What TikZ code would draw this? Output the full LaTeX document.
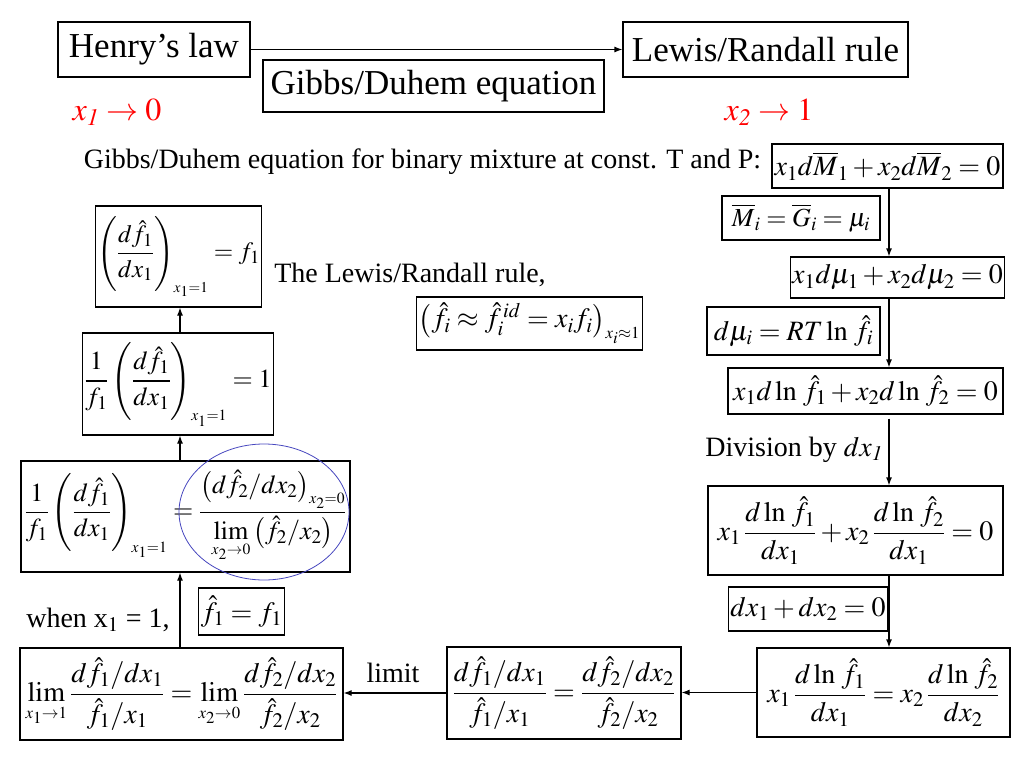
\documentclass[tikz,border=0pt]{standalone}
\usepackage{amsmath}
\usepackage{mathptmx}
\usepackage{fontspec}
\setmainfont{Liberation Serif}
\usetikzlibrary{arrows.meta}

\newcommand{\evalat}[1]{_{\scriptscriptstyle #1}}
\definecolor{ringblue}{RGB}{70,70,190}
\tikzset{
	titlebox/.style={draw, line width=1.2pt, inner sep=2pt, font=\fontsize{35}{40}\selectfont},
	eqbox/.style={draw, line width=1.2pt, inner sep=2pt, font=\fontsize{28}{32}\selectfont},
	smalleq/.style={font=\fontsize{26}{30}\selectfont},
	tinyeq/.style={font=\fontsize{25}{29}\selectfont},
	plain/.style={inner sep=0pt, font=\fontsize{28}{32}\selectfont},
	limitlabel/.style={inner sep=0pt, text=red, font=\fontsize{32}{36}\selectfont},
	flow/.style={line width=1.2pt, -{Latex[length=8pt,width=6pt]}},
}

\begin{document}
\begin{tikzpicture}[x=1pt,y=-1pt]
	\useasboundingbox (0,0) rectangle (1024,768);
	\coordinate (rcol) at (889,0);
	\coordinate (lcol) at (180,0);

	\node[titlebox, minimum width=192pt, minimum height=55pt] (henry) at (154,49.5) {Henry's law};
	\node[titlebox, minimum width=285pt, minimum height=55pt] (lewis) at (765.5,49.5) {Lewis/Randall rule};
	\node[titlebox, minimum width=341pt, minimum height=52pt] (gibbs) at (433.5,86) {Gibbs/Duhem equation};
	\node[limitlabel] (xone) at (117,112) {$x_{\mathit{1}}\rightarrow 0$};
	\node[limitlabel] (xtwo) at (769,112) {$x_{\mathit{2}}\rightarrow 1$};

	\node[plain] (gdtext) at (422.5,161.5) {Gibbs/Duhem equation for binary mixture at const. T and P:};
	\node[eqbox, minimum width=231pt, minimum height=44pt] (b1) at (887.5,166) {$x_1 d\overline{M}_1 + x_2 d\overline{M}_2 = 0$};
	\node[eqbox, smalleq, minimum width=158pt, minimum height=44pt] (bM) at (801,218) {$\overline{M}_i = \overline{G}_i = \mu_i$};
	\node[eqbox, minimum width=211pt, minimum height=41pt] (b3) at (897.5,277.5) {$x_1 d\mu_1 + x_2 d\mu_2 = 0$};
	\node[eqbox, minimum width=173pt, minimum height=48pt] (bmu) at (793.5,331) {$d\mu_i = RT \ln\, \hat{f}_i$};
	\node[eqbox, minimum width=275pt, minimum height=46pt] (b5) at (865.5,391) {$x_1 d\ln\, \hat{f}_1 + x_2 d\ln\, \hat{f}_2 = 0$};
	\node[plain] (divide) at (794,450) {Division by $dx_{\mathit{1}}$};
	\node[eqbox, minimum width=295pt, minimum height=89pt] (b6) at (855.5,530.5) {$x_1\, \dfrac{d\ln\, \hat{f}_1}{dx_1} + x_2\, \dfrac{d\ln\, \hat{f}_2}{dx_1} = 0$};
	\node[eqbox, minimum width=156pt, minimum height=44pt] (bdx) at (808,609) {$dx_1 + dx_2 = 0$};
	\node[eqbox, minimum width=253pt, minimum height=89pt] (b7) at (883.5,692.5) {$x_1\, \dfrac{d\ln\, \hat{f}_1}{dx_1} = x_2\, \dfrac{d\ln\, \hat{f}_2}{dx_2}$};
	\node[eqbox, minimum width=234pt, minimum height=92pt] (b8) at (564,693) {$\dfrac{d\hat{f}_1/dx_1}{\hat{f}_1/x_1} = \dfrac{d\hat{f}_2/dx_2}{\hat{f}_2/x_2}$};
	\node[plain] (limit) at (393,673) {limit};
	\node[eqbox, minimum width=323pt, minimum height=92pt] (b9) at (181.5,694) {$\lim\limits\evalat{x_1\to 1} \dfrac{d\hat{f}_1/dx_1}{\hat{f}_1/x_1} = \lim\limits\evalat{x_2\to 0} \dfrac{d\hat{f}_2/dx_2}{\hat{f}_2/x_2}$};
	\node[plain] (when) at (98,620) {when x$_1$ = 1,};
	\node[eqbox, minimum width=85pt, minimum height=47pt] (bf) at (241.5,611.5) {$\hat{f}_1 = f_1$};

	\node[eqbox, smalleq, minimum width=329pt, minimum height=111pt] (L3) at (185.5,516.5) {$\dfrac{1}{f_1}\left(\dfrac{d\hat{f}_1}{dx_1}\right)\evalat{x_1=1} = \dfrac{\left(d\hat{f}_2/dx_2\right)\evalat{x_2=0}}{\lim\limits\evalat{x_2\to 0}\left(\hat{f}_2/x_2\right)}$};
	\node[eqbox, smalleq, minimum width=188pt, minimum height=102pt] (L2) at (178,384) {$\dfrac{1}{f_1}\left(\dfrac{d\hat{f}_1}{dx_1}\right)\evalat{x_1=1} = 1$};
	\node[eqbox, tinyeq, minimum width=165pt, minimum height=101pt] (L1) at (178.5,256.5) {$\left(\dfrac{d\hat{f}_1}{dx_1}\right)\evalat{x_1=1} = f_1$};
	\node[plain] (lrtext) at (410,275) {The Lewis/Randall rule,};
	\node[eqbox, minimum width=225pt, minimum height=53pt] (bid) at (529.5,323.5) {$\left(\hat{f}_i \approx \hat{f}_i^{\,id} = x_i f_i\right)\evalat{x_i\approx 1}$};

	\draw[ringblue, line width=0.8pt] (264,512) ellipse [x radius=85pt, y radius=68pt];

	\draw[flow] (henry.east) -- (lewis.west);
	\draw[flow] (b1.south -| rcol) -- (b3.north -| rcol);
	\draw[flow] (b3.south -| rcol) -- (b5.north -| rcol);
	\draw[flow] ([yshift=-4pt]b5.south -| rcol) -- (b6.north -| rcol);
	\draw[flow] (b6.south -| rcol) -- (b7.north -| rcol);
	\draw[flow] (b7.west) -- (b7.west -| b8.east);
	\draw[flow] (b8.west) -- (b8.west -| b9.east);
	\draw[flow] (b9.north -| lcol) -- (L3.south -| lcol);
	\draw[flow] (L3.north -| lcol) -- (L2.south -| lcol);
	\draw[flow] (L2.north -| lcol) -- (L1.south -| lcol);
\end{tikzpicture}
\end{document}
